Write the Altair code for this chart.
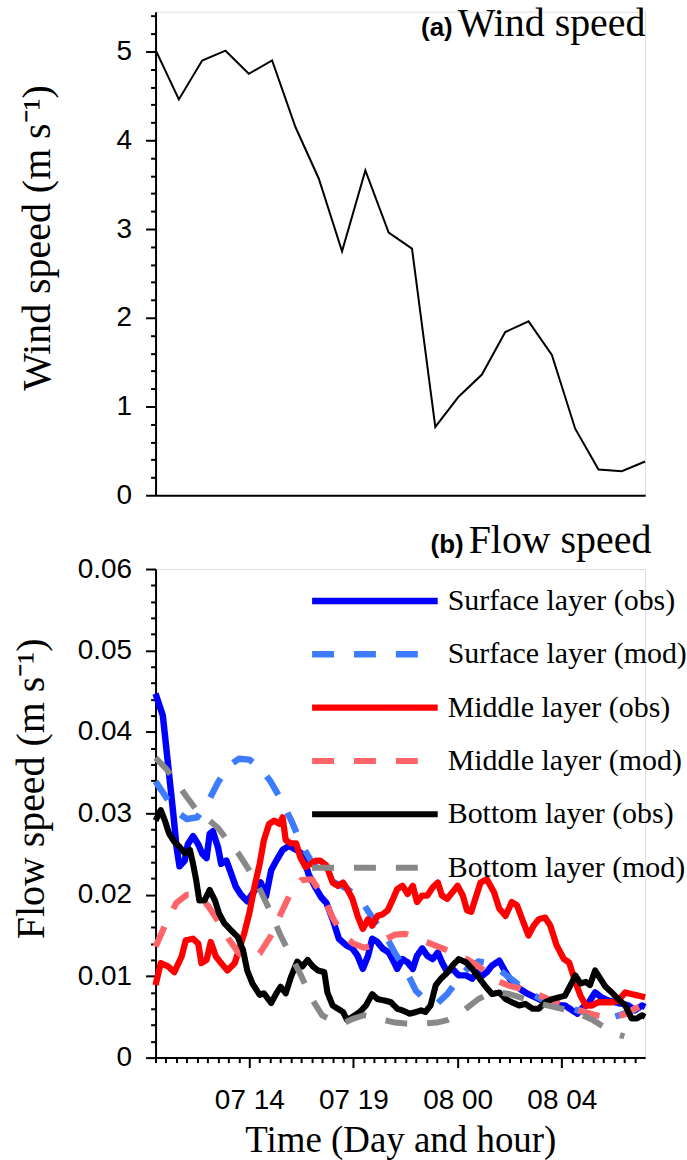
import altair as alt
import pandas as pd

# ---------------- Panel (a): wind speed ----------------
wind_step = list(range(22))
wind_speed = [5.02, 4.46, 4.90, 5.01, 4.75, 4.90, 4.15, 3.57, 2.75, 3.66, 2.96,
              2.78, 0.77, 1.11, 1.36, 1.84, 1.96, 1.58, 0.75, 0.29, 0.27, 0.38]

# ---------------- Panel (b): flow speed ----------------
# time in axis steps (major ticks every 10 steps), speed in m/s
surf_obs_t = [0.0, 0.7, 1.2, 1.7, 2.0, 2.3, 2.8, 3.1, 3.6, 4.1, 4.5, 4.9, 5.2, 5.5, 6.0, 6.3,
              6.8, 7.2, 7.7, 8.2, 8.8, 9.5, 10.1, 10.6, 11.1, 11.6, 12.2, 12.8, 13.4, 14.1,
              14.7, 15.3, 15.9, 16.4, 17.0, 17.6, 18.3, 18.9, 19.4, 19.9, 20.4, 20.8, 21.3,
              21.8, 22.4, 22.9, 23.2, 23.7, 24.2, 24.7, 25.1, 25.6, 26.1, 26.6, 27.1, 27.5,
              28.0, 28.5, 29.1, 29.8, 30.4, 30.9, 31.4, 31.8, 32.3, 33.0, 33.6, 34.2, 34.9,
              35.5, 36.1, 36.8, 37.4, 38.1, 38.7, 39.3, 40.0, 40.5, 40.9, 41.6, 42.2, 42.8,
              43.5, 44.1, 44.8, 45.4, 46.0, 46.7, 47.0]
surf_obs_v = [0.0447, 0.0420, 0.0360, 0.0300, 0.0260, 0.0235, 0.0242, 0.0262, 0.0272, 0.0262,
              0.0250, 0.0245, 0.0275, 0.0278, 0.0258, 0.0238, 0.0242, 0.0228, 0.0210, 0.0200,
              0.0192, 0.0205, 0.0215, 0.0198, 0.0230, 0.0242, 0.0255, 0.0260, 0.0256, 0.0250,
              0.0225, 0.0210, 0.0197, 0.0190, 0.0170, 0.0146, 0.0138, 0.0134, 0.0125, 0.0109,
              0.0125, 0.0146, 0.0142, 0.0134, 0.0129, 0.0117, 0.0109, 0.0121, 0.0117, 0.0109,
              0.0125, 0.0134, 0.0125, 0.0121, 0.0129, 0.0117, 0.0105, 0.0109, 0.0101, 0.0101,
              0.0097, 0.0105, 0.0101, 0.0105, 0.0113, 0.0119, 0.0105, 0.0093, 0.0085, 0.0080,
              0.0076, 0.0072, 0.0068, 0.0066, 0.0064, 0.0064, 0.0058, 0.0054, 0.0060, 0.0068,
              0.0080, 0.0074, 0.0070, 0.0068, 0.0066, 0.0064, 0.0058, 0.0064, 0.0062]

surf_mod_t = list(range(48))
surf_mod_v = [0.0339, 0.0320, 0.0302, 0.0293, 0.0295, 0.0313, 0.0338, 0.0358, 0.0367, 0.0366,
              0.0356, 0.0340, 0.0318, 0.0292, 0.0262, 0.0240, 0.0225, 0.0216, 0.0210, 0.0202,
              0.0188, 0.0168, 0.0152, 0.0128, 0.0108, 0.0082, 0.0070, 0.0066, 0.0078, 0.0095,
              0.0110, 0.0118, 0.0116, 0.0108, 0.0098, 0.0088, 0.0079, 0.0072, 0.0067, 0.0064,
              0.0060, 0.0056, 0.0052, 0.0050, 0.0050, 0.0054, 0.0059, 0.0062]

mid_obs_t = [0.0, 0.5, 1.2, 1.8, 2.5, 2.9, 3.6, 4.1, 4.4, 4.9, 5.3, 5.8, 6.3, 6.9, 7.6, 8.0,
             8.5, 9.0, 9.5, 10.0, 10.4, 10.9, 11.4, 11.9, 12.2, 12.5, 13.0, 13.5, 13.9, 14.4,
             14.9, 15.4, 15.8, 16.4, 17.0, 17.5, 18.0, 18.4, 18.9, 19.4, 19.9, 20.4, 20.8,
             21.3, 21.8, 22.3, 22.8, 23.2, 23.7, 24.2, 24.7, 25.1, 25.6, 26.1, 26.6, 27.1,
             27.5, 28.0, 28.5, 29.0, 29.5, 29.9, 30.3, 30.7, 31.2, 31.8, 32.5, 33.0, 33.6,
             34.2, 34.7, 35.2, 35.8, 36.3, 36.8, 37.4, 37.9, 38.5, 39.2, 39.7, 40.3, 40.8,
             41.3, 41.9, 42.5, 43.2, 43.8, 44.4, 45.1, 45.7, 46.4, 47.0]
mid_obs_v = [0.0089, 0.0116, 0.0112, 0.0105, 0.0124, 0.0144, 0.0146, 0.0140, 0.0116, 0.0120,
             0.0142, 0.0124, 0.0116, 0.0107, 0.0116, 0.0132, 0.0152, 0.0177, 0.0210, 0.0238,
             0.0267, 0.0287, 0.0291, 0.0287, 0.0295, 0.0267, 0.0263, 0.0263, 0.0246, 0.0234,
             0.0238, 0.0242, 0.0242, 0.0236, 0.0215, 0.0211, 0.0215, 0.0207, 0.0195, 0.0174,
             0.0158, 0.0170, 0.0162, 0.0174, 0.0176, 0.0181, 0.0195, 0.0207, 0.0211, 0.0201,
             0.0211, 0.0191, 0.0199, 0.0199, 0.0209, 0.0215, 0.0199, 0.0195, 0.0203, 0.0211,
             0.0199, 0.0181, 0.0179, 0.0195, 0.0215, 0.0219, 0.0203, 0.0183, 0.0174, 0.0191,
             0.0187, 0.0170, 0.0150, 0.0162, 0.0170, 0.0172, 0.0162, 0.0138, 0.0121, 0.0117,
             0.0093, 0.0076, 0.0064, 0.0064, 0.0068, 0.0068, 0.0068, 0.0070, 0.0080, 0.0078,
             0.0076, 0.0074]

mid_mod_t = list(range(48))
mid_mod_v = [0.0136, 0.0165, 0.0190, 0.0200, 0.0200, 0.0187, 0.0168, 0.0146, 0.0128, 0.0122,
             0.0128, 0.0148, 0.0176, 0.0203, 0.0218, 0.0219, 0.0200, 0.0172, 0.0150, 0.0140,
             0.0135, 0.0138, 0.0145, 0.0151, 0.0152, 0.0148, 0.0142, 0.0137, 0.0132, 0.0127,
             0.0120, 0.0112, 0.0102, 0.0093, 0.0088, 0.0085, 0.0080, 0.0076, 0.0070, 0.0066,
             0.0061, 0.0057, 0.0053, 0.0050, 0.0050, 0.0053, 0.0060, 0.0065]

bot_obs_t = [0.0, 0.5, 0.9, 1.3, 1.8, 2.3, 2.8, 3.3, 3.6, 3.9, 4.2, 4.7, 5.2, 5.7, 6.1, 6.6,
             7.2, 7.9, 8.4, 8.8, 9.3, 10.0, 10.4, 11.1, 11.6, 12.0, 12.5, 13.0, 13.6, 14.1,
             14.6, 15.1, 15.6, 16.2, 16.5, 17.0, 17.5, 18.0, 18.4, 18.9, 19.6, 20.2, 20.8,
             21.3, 22.0, 22.6, 23.2, 23.7, 24.4, 25.0, 25.5, 25.9, 26.4, 26.9, 27.4, 27.9,
             28.5, 29.1, 29.8, 30.4, 31.0, 31.7, 32.3, 33.0, 33.6, 34.2, 34.9, 35.5, 36.2,
             36.8, 37.4, 38.1, 38.7, 39.3, 40.0, 40.3, 40.8, 41.3, 41.7, 42.2, 42.7, 43.2,
             43.8, 44.4, 45.1, 45.7, 46.2, 46.7, 47.0]
bot_obs_v = [0.0291, 0.0304, 0.0291, 0.0275, 0.0265, 0.0259, 0.0251, 0.0255, 0.0238, 0.0218,
             0.0193, 0.0193, 0.0206, 0.0193, 0.0177, 0.0165, 0.0157, 0.0148, 0.0132, 0.0107,
             0.0091, 0.0077, 0.0079, 0.0067, 0.0079, 0.0087, 0.0079, 0.0099, 0.0118, 0.0112,
             0.0120, 0.0112, 0.0107, 0.0105, 0.0080, 0.0064, 0.0060, 0.0056, 0.0046, 0.0050,
             0.0056, 0.0064, 0.0078, 0.0072, 0.0070, 0.0068, 0.0060, 0.0058, 0.0054, 0.0056,
             0.0058, 0.0056, 0.0064, 0.0089, 0.0097, 0.0103, 0.0113, 0.0121, 0.0117, 0.0109,
             0.0099, 0.0087, 0.0078, 0.0080, 0.0072, 0.0068, 0.0064, 0.0066, 0.0060, 0.0060,
             0.0068, 0.0072, 0.0074, 0.0076, 0.0093, 0.0101, 0.0091, 0.0093, 0.0089, 0.0107,
             0.0097, 0.0087, 0.0080, 0.0072, 0.0064, 0.0048, 0.0048, 0.0052, 0.0050]

bot_mod_t = list(range(46))
bot_mod_v = [0.0368, 0.0355, 0.0338, 0.0320, 0.0303, 0.0293, 0.0282, 0.0265, 0.0250, 0.0230,
             0.0207, 0.0180, 0.0150, 0.0125, 0.0100, 0.0072, 0.0052, 0.0045, 0.0042, 0.0048,
             0.0052, 0.0050, 0.0046, 0.0043, 0.0042, 0.0042, 0.0042, 0.0043, 0.0046, 0.0052,
             0.0062, 0.0072, 0.0078, 0.0080, 0.0078, 0.0074, 0.0070, 0.0066, 0.0063, 0.0060,
             0.0057, 0.0052, 0.0046, 0.0038, 0.0030, 0.0026]

series_names = ["Surface layer (obs)", "Surface layer (mod)", "Middle layer (obs)",
                "Middle layer (mod)", "Bottom layer (obs)", "Bottom layer (mod)"]
series_colors = ["#0000ff", "#3d7cff", "#ff0000", "#ff6468", "#000000", "#888888"]
series_dashes = [[1, 0], [22, 20], [1, 0], [22, 20], [1, 0], [22, 20]]
series_widths = [6.5, 6, 6.5, 6, 6.5, 6]

major_ticks = [9, 19, 29, 39]
major_labels = ["07 14", "07 19", "08 00", "08 04"]

# ---------------- build tables ----------------
wind_df = pd.DataFrame({"step": wind_step, "speed": wind_speed})

all_t = [surf_obs_t, surf_mod_t, mid_obs_t, mid_mod_t, bot_obs_t, bot_mod_t]
all_v = [surf_obs_v, surf_mod_v, mid_obs_v, mid_mod_v, bot_obs_v, bot_mod_v]
rows = []
for order, (name, ts, vs) in enumerate(zip(series_names, all_t, all_v)):
    for t, v in zip(ts, vs):
        rows.append({"series": name, "order": order, "t": t, "speed": v})
flow_df = pd.DataFrame(rows)

SANS = "Liberation Sans"
SERIF = "Liberation Serif"

top_w, top_h = 491, 485
bot_w, bot_h = 491, 490
gap = 74

# ---------------- Panel (a) ----------------
top_y_vals = [round(i * 0.2, 1) for i in range(28)]
top_major_test = "abs(datum.value - round(datum.value)) < 0.001"
top_y_axis = alt.Axis(
    values=top_y_vals,
    labelExpr=f"({top_major_test}) ? format(datum.value, 'd') : ''",
    tickSize={"condition": {"test": top_major_test, "value": 10}, "value": 5},
    tickWidth=2, tickColor="black", domainColor="black", domainWidth=2,
    labelFont=SANS, labelFontSize=28, labelColor="black", labelPadding=14,
    title="Wind speed (m s\u207b\u00b9)", titleFont=SERIF, titleFontSize=40,
    titleFontWeight="normal", titleColor="black",
    titleX=-118, titleY=top_h / 2 - 16, titleAngle=-90, titleAlign="center",
    titleBaseline="middle", grid=False,
)
top_x_axis = alt.Axis(title=None, labels=False, ticks=False, domainColor="black",
                      domainWidth=2, grid=False)

wind_line = alt.Chart(wind_df).mark_line(color="black", strokeWidth=2).encode(
    x=alt.X("step:Q", scale=alt.Scale(domain=[0, 21], nice=False, zero=False), axis=top_x_axis),
    y=alt.Y("speed:Q", scale=alt.Scale(domain=[0, 5.45], nice=False), axis=top_y_axis),
)
label_a = alt.Chart(pd.DataFrame({"txt": ["(a)"]})).mark_text(
    font=SANS, fontSize=26, fontWeight="bold", align="right", baseline="alphabetic", color="black"
).encode(text="txt:N", x=alt.value(298), y=alt.value(24))
word_a = alt.Chart(pd.DataFrame({"txt": ["Wind speed"]})).mark_text(
    font=SERIF, fontSize=40, align="left", baseline="alphabetic", color="black"
).encode(text="txt:N", x=alt.value(303), y=alt.value(24))

top = alt.layer(wind_line, label_a, word_a).properties(width=top_w, height=top_h)

# ---------------- Panel (b) ----------------
bot_y_vals = [round(i * 0.002, 3) for i in range(31)]
bot_major_test = "abs(datum.value * 100 - round(datum.value * 100)) < 0.001"
bot_y_axis = alt.Axis(
    values=bot_y_vals,
    labelExpr=f"({bot_major_test}) ? (datum.value == 0 ? '0' : format(datum.value, '.2f')) : ''",
    tickSize={"condition": {"test": bot_major_test, "value": 10}, "value": 5},
    tickWidth=2, tickColor="black", domainColor="black", domainWidth=2,
    labelFont=SANS, labelFontSize=28, labelColor="black", labelPadding=14,
    title="Flow speed (m s\u207b\u00b9)", titleFont=SERIF, titleFontSize=40,
    titleFontWeight="normal", titleColor="black",
    titleX=-124, titleY=bot_h / 2 - 25, titleAngle=-90, titleAlign="center",
    titleBaseline="middle", grid=False,
)
label_expr = "".join(f"datum.value == {v} ? '{l}' : " for v, l in zip(major_ticks, major_labels)) + "''"
x_major_test = " || ".join(f"datum.value == {v}" for v in major_ticks)
bot_x_axis = alt.Axis(
    values=list(range(47)),
    labelExpr=label_expr,
    tickSize={"condition": {"test": x_major_test, "value": 10}, "value": 5},
    tickWidth=2, tickColor="black", domainColor="black", domainWidth=2,
    labelFont=SANS, labelFontSize=28, labelColor="black", labelPadding=19,
    labelOverlap=False, labelFlush=False,
    title="Time (Day and hour)", titleFont=SERIF, titleFontSize=37,
    titleFontWeight="normal", titleColor="black",
    titleX=bot_w / 2, titleY=94, titleAlign="center", titleBaseline="alphabetic",
    grid=False,
)

# legend is positioned relative to the top panel's origin in the concatenation
legend = alt.Legend(
    title=None, orient="none", legendX=201, legendY=top_h + gap + 13, padding=0, offset=0,
    symbolType="M-4,0H4", symbolSize=992, symbolStrokeWidth=6,
    labelFont=SERIF, labelFontSize=30, labelColor="black", labelOffset=54,
    labelLimit=400, rowPadding=19.5,
)

flow_lines = alt.Chart(flow_df).mark_line(strokeJoin="round").encode(
    x=alt.X("t:Q", scale=alt.Scale(domain=[0, 47], nice=False, zero=False), axis=bot_x_axis),
    y=alt.Y("speed:Q", scale=alt.Scale(domain=[0, 0.06], nice=False), axis=bot_y_axis),
    color=alt.Color("series:N", scale=alt.Scale(domain=series_names, range=series_colors),
                    legend=legend),
    strokeDash=alt.StrokeDash("series:N", scale=alt.Scale(domain=series_names, range=series_dashes),
                              legend=legend),
    strokeWidth=alt.StrokeWidth("series:N", scale=alt.Scale(domain=series_names, range=series_widths),
                                legend=None),
    order=alt.Order("order:Q"),
)
label_b = alt.Chart(pd.DataFrame({"txt": ["(b)"]})).mark_text(
    font=SANS, fontSize=26, fontWeight="bold", align="right", baseline="alphabetic", color="black"
).encode(text="txt:N", x=alt.value(309), y=alt.value(-16))
word_b = alt.Chart(pd.DataFrame({"txt": ["Flow speed"]})).mark_text(
    font=SERIF, fontSize=40, align="left", baseline="alphabetic", color="black"
).encode(text="txt:N", x=alt.value(314), y=alt.value(-16))

bottom = alt.layer(flow_lines, label_b, word_b).properties(width=bot_w, height=bot_h)

chart = alt.vconcat(top, bottom, spacing=gap, bounds="flush").properties(
    padding={"left": 11, "top": 1, "right": 0, "bottom": 0}
).configure_view(stroke=None).configure(background="white")

chart.save("out.html", embed_options={"renderer": "svg", "actions": False})
